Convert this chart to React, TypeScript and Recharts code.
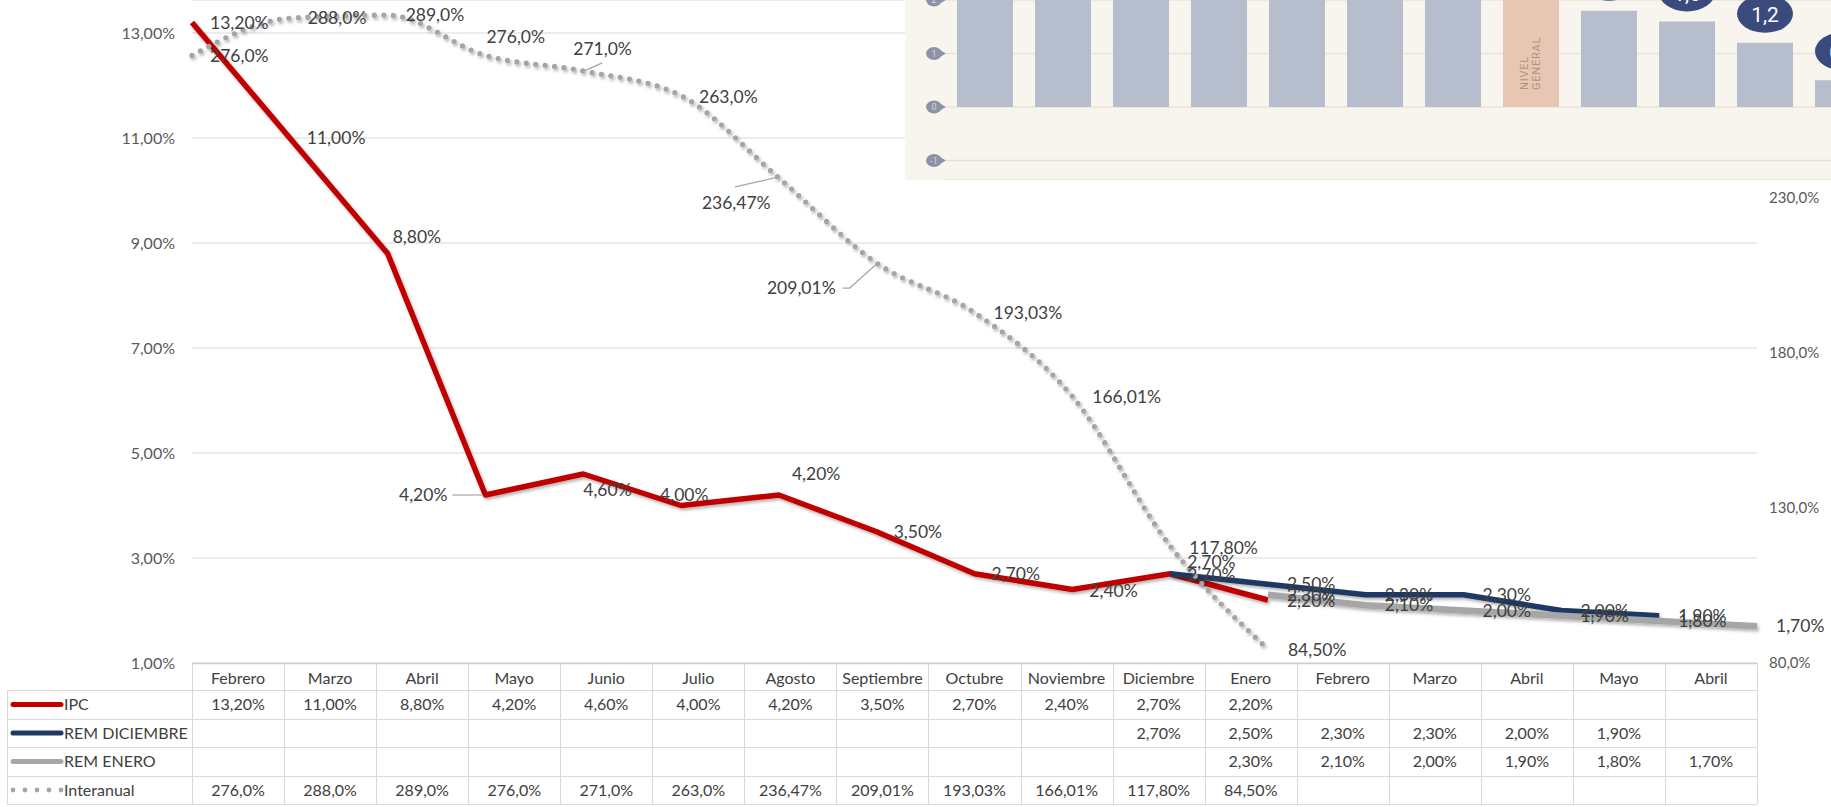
import React from 'react';
import {
  ComposedChart,
  Line,
  XAxis,
  YAxis,
  CartesianGrid,
  LabelList,
  BarChart,
  Bar,
  Cell,
} from 'recharts';

// ---------------- DATA ----------------
const categories = [
  'Febrero', 'Marzo', 'Abril', 'Mayo', 'Junio', 'Julio', 'Agosto', 'Septiembre',
  'Octubre', 'Noviembre', 'Diciembre', 'Enero', 'Febrero', 'Marzo', 'Abril', 'Mayo', 'Abril',
];
const ipc = [13.2, 11.0, 8.8, 4.2, 4.6, 4.0, 4.2, 3.5, 2.7, 2.4, 2.7, 2.2, null, null, null, null, null];
const remDiciembre = [null, null, null, null, null, null, null, null, null, null, 2.7, 2.5, 2.3, 2.3, 2.0, 1.9, null];
const remEnero = [null, null, null, null, null, null, null, null, null, null, null, 2.3, 2.1, 2.0, 1.9, 1.8, 1.7];
const interanual = [276, 288, 289, 276, 271, 263, 236.47, 209.01, 193.03, 166.01, 117.8, 84.5, null, null, null, null, null];
const leftTicks = [1, 3, 5, 7, 9, 11, 13];
const rightTicks = [80, 130, 180, 230, 280];

const seriesNames = ['IPC', 'REM DICIEMBRE', 'REM ENERO', 'Interanual'];

// inset (pasted picture of a bar chart)
const insetValues = [2.6, 2.5, 2.5, 2.4, 2.3, 2.3, 2.2, 2.1, 1.8, 1.6, 1.2, 0.5];
const insetTicks = [-1, 0, 1, 2];
const insetHighlightIndex = 7;
const insetHighlightText = ['NIVEL', 'GENERAL'];

// ---------------- STYLE ----------------
const FONT = 'Lato, "Open Sans", sans-serif';
const TEXT = '#404040';
const RED = '#c00000';
const NAVY = '#1f3864';
const GRAY = '#a6a6a6';
const DOT = '#a5a5a5';

const W = 1831;
const PLOT_LEFT = 192;
const PLOT_RIGHT = 1757;
const PLOT_BOTTOM = 663;
const COL_W = (PLOT_RIGHT - PLOT_LEFT) / categories.length;

type LabelPos = { dx: number; dy: number; anchor?: 'start' | 'end' | 'middle'; leader?: number[][] };

const ipcLayout: LabelPos[] = [
  { dx: 18, dy: 0 }, { dx: 17, dy: 0 }, { dx: 5, dy: -17 },
  { dx: -38, dy: 0, anchor: 'end', leader: [[-33, 0], [-3, 0]] },
  { dx: 0, dy: 16 }, { dx: -21, dy: -11 }, { dx: 13, dy: -21 }, { dx: 17, dy: 0 },
  { dx: 17, dy: 0 }, { dx: 17, dy: 1 }, { dx: 17, dy: 1 }, { dx: 19, dy: 1 },
];
const remDicLayout: LabelPos[] = [];
remDicLayout[10] = { dx: 17, dy: -12 };
const remEneLayout: LabelPos[] = [];
const interLayout: LabelPos[] = [
  { dx: 18, dy: 0 }, { dx: 18, dy: 0 }, { dx: 18, dy: 0 }, { dx: 1, dy: -19 },
  { dx: -10, dy: -22, leader: [[1, 0], [19, -8]] },
  { dx: 18, dy: 1 },
  { dx: -77, dy: 25, leader: [[-44, 9], [0, -1]] },
  { dx: -41, dy: 25, anchor: 'end', leader: [[-34, 25], [-27, 25], [1, 0]] },
  { dx: 19, dy: 0 }, { dx: 20, dy: 1 }, { dx: 19, dy: 2 }, { dx: 20, dy: 1 },
];

const fmtPct2 = (v: number) => v.toFixed(2).replace('.', ',') + '%';
const fmtInter = (v: number) => (Number.isInteger(v) ? v.toFixed(1) : v.toFixed(2)).replace('.', ',') + '%';
const fmtRight = (v: number) => v.toFixed(1).replace('.', ',') + '%';

const chartData = categories.map((c, i) => ({
  key: i,
  name: c,
  ipc: ipc[i],
  remDic: remDiciembre[i],
  remEne: remEnero[i],
  inter: interanual[i],
}));

const insetData = insetValues.map((v, i) => ({ k: i, v }));

function makeLabel(layout: LabelPos[], fmt: (v: number) => string) {
  return (props: any) => {
    const { x, y, value } = props;
    if (value == null || x == null || y == null) return null;
    let index = props.index;
    if (index == null) index = Math.round((x - PLOT_LEFT - COL_W / 2) / COL_W);
    const l = layout[index] || { dx: 19, dy: 0 };
    return (
      <g>
        {l.leader && (
          <polyline
            points={l.leader.map(([a, b]) => `${x + a},${y + b}`).join(' ')}
            fill="none"
            stroke="#a6a6a6"
            strokeWidth={1.2}
          />
        )}
        <text
          x={x + l.dx}
          y={y + l.dy}
          dy="0.35em"
          textAnchor={l.anchor || 'start'}
          fontSize={17.5}
          fill={TEXT}
          fontFamily={FONT}
        >
          {fmt(Number(value))}
        </text>
      </g>
    );
  };
}

const InsetTick = (props: any) => {
  const { y, payload } = props;
  return (
    <g>
      <polygon points={`34,${y - 4} 41,${y} 34,${y + 4}`} fill="#8e92a8" />
      <ellipse cx={29} cy={y} rx={8} ry={6.5} fill="#8e92a8" />
      <text x={29} y={y} dy="0.35em" textAnchor="middle" fontSize={9} fill="#d4d6e0" fontFamily="Roboto">
        {payload.value}
      </text>
    </g>
  );
};

const insetLabel = (props: any) => {
  const { x, y, width, value, index } = props;
  if (value == null) return null;
  const cx = x + width / 2;
  if (index === insetHighlightIndex) {
    return (
      <g fill="#b8917a" fontSize={11} fontFamily="Roboto" letterSpacing={0.8}>
        <text transform={`translate(${cx - 3},90) rotate(-90)`}>{insetHighlightText[0]}</text>
        <text transform={`translate(${cx + 9},90) rotate(-90)`}>{insetHighlightText[1]}</text>
      </g>
    );
  }
  const cy = y - 29;
  return (
    <g>
      <ellipse cx={cx} cy={cy} rx={28} ry={19} fill="#3b4a7c" />
      <text x={cx} y={cy + 1} dy="0.35em" textAnchor="middle" fontSize={21} fill="#ffffff" fontFamily="Roboto">
        {Number(value).toFixed(1).replace('.', ',')}
      </text>
    </g>
  );
};

// ---------------- TABLE ----------------
const ROW_Y = [663, 690, 719, 747, 776, 804];
const TABLE_LEFT = 7;

function LegendSample({ i, cy }: { i: number; cy: number }) {
  if (i === 3) {
    return (
      <g>
        {[13, 25, 37, 49, 61].map((cx) => (
          <circle key={cx} cx={cx} cy={cy} r={2.4} fill={DOT} />
        ))}
      </g>
    );
  }
  const color = i === 0 ? RED : i === 1 ? NAVY : GRAY;
  return <line x1={13} x2={61} y1={cy} y2={cy} stroke={color} strokeWidth={5} strokeLinecap="round" />;
}

function DataTable() {
  const rows = [
    ipc.map((v) => (v == null ? '' : fmtPct2(v))),
    remDiciembre.map((v) => (v == null ? '' : fmtPct2(v))),
    remEnero.map((v) => (v == null ? '' : fmtPct2(v))),
    interanual.map((v) => (v == null ? '' : fmtInter(v))),
  ];
  const lineColor = '#d9d9d9';
  const lines: any[] = [];
  lines.push(<line key="ht" x1={PLOT_LEFT} x2={PLOT_RIGHT} y1={ROW_Y[0] + 0.5} y2={ROW_Y[0] + 0.5} stroke="#cfcfcf" strokeWidth={1.5} />);
  for (let r = 1; r < ROW_Y.length; r++) {
    lines.push(
      <line key={'h' + r} x1={TABLE_LEFT} x2={PLOT_RIGHT} y1={ROW_Y[r] + 0.5} y2={ROW_Y[r] + 0.5} stroke={lineColor} strokeWidth={1} />
    );
  }
  lines.push(<line key="vl" x1={TABLE_LEFT + 0.5} x2={TABLE_LEFT + 0.5} y1={ROW_Y[1]} y2={ROW_Y[5]} stroke={lineColor} />);
  for (let c = 0; c <= categories.length; c++) {
    const x = Math.round(PLOT_LEFT + c * COL_W) + 0.5;
    lines.push(<line key={'v' + c} x1={x} x2={x} y1={ROW_Y[0]} y2={ROW_Y[5]} stroke={lineColor} />);
  }
  return (
    <svg width={W} height={807} style={{ position: 'absolute', left: 0, top: 0 }}>
      {lines}
      {categories.map((c, i) => (
        <text key={'c' + i} x={PLOT_LEFT + (i + 0.5) * COL_W} y={(ROW_Y[0] + ROW_Y[1]) / 2 + 2} dy="0.35em"
          textAnchor="middle" fontSize={16} fill={TEXT} fontFamily={FONT}>
          {c}
        </text>
      ))}
      {rows.map((row, r) => {
        const cy = (ROW_Y[r + 1] + ROW_Y[r + 2]) / 2;
        return (
          <g key={'r' + r}>
            <LegendSample i={r} cy={cy} />
            <text x={64} y={cy} dy="0.35em" fontSize={16} fill={TEXT} fontFamily={FONT}>
              {seriesNames[r]}
            </text>
            {row.map((t, i) => (
              <text key={i} x={PLOT_LEFT + (i + 0.5) * COL_W} y={cy} dy="0.35em" textAnchor="middle"
                fontSize={16} fill={TEXT} fontFamily={FONT}>
                {t}
              </text>
            ))}
          </g>
        );
      })}
    </svg>
  );
}

// ---------------- APP ----------------
export default function App() {
  const leftMax = 1 + PLOT_BOTTOM / 52.5;
  const rightMax = 80 + PLOT_BOTTOM / 3.1;
  return (
    <div style={{ position: 'absolute', left: 0, top: 0, width: W, height: 807, overflow: 'hidden', background: '#fff', fontFamily: FONT }}>
      <svg width={0} height={0} style={{ position: 'absolute' }}>
        <defs>
          <filter id="lineShadow" filterUnits="userSpaceOnUse" x={0} y={0} width={W} height={807}>
            <feDropShadow dx={1.5} dy={2.2} stdDeviation={1.6} floodColor="#000" floodOpacity={0.3} />
          </filter>
        </defs>
      </svg>
      <div style={{ position: 'absolute', left: 0, top: 0 }}>
        <ComposedChart width={W} height={PLOT_BOTTOM + 17} data={chartData} margin={{ top: 0, right: 0, bottom: 17, left: 0 }}>
          <CartesianGrid yAxisId="left" vertical={false} stroke="#d9d9d9" />
          <XAxis dataKey="key" hide />
          <YAxis
            yAxisId="left"
            width={PLOT_LEFT}
            domain={[1, leftMax]}
            ticks={leftTicks}
            allowDataOverflow
            axisLine={false}
            tickLine={false}
            tickSize={0}
            tickMargin={17}
            tickFormatter={fmtPct2}
            tick={{ fill: '#595959', fontSize: 16, fontFamily: FONT }}
            interval={0}
          />
          <YAxis
            yAxisId="right"
            orientation="right"
            width={W - PLOT_RIGHT}
            domain={[80, rightMax]}
            ticks={rightTicks}
            allowDataOverflow
            axisLine={false}
            tickLine={false}
            tickSize={0}
            tickMargin={12}
            tickFormatter={fmtRight}
            tick={{ fill: '#595959', fontSize: 15, fontFamily: FONT }}
            interval={0}
          />
          <Line yAxisId="left" dataKey="ipc" type="linear" stroke={RED} strokeWidth={5.5} dot={false}
            isAnimationActive={false} filter="url(#lineShadow)" strokeLinejoin="round">
            <LabelList dataKey="ipc" content={makeLabel(ipcLayout, fmtPct2)} />
          </Line>
          <Line yAxisId="left" dataKey="remDic" type="linear" stroke={NAVY} strokeWidth={5.5} dot={false}
            isAnimationActive={false} filter="url(#lineShadow)" strokeLinejoin="round">
            <LabelList dataKey="remDic" content={makeLabel(remDicLayout, fmtPct2)} />
          </Line>
          <Line yAxisId="left" dataKey="remEne" type="linear" stroke={GRAY} strokeWidth={6.5} dot={false}
            isAnimationActive={false} filter="url(#lineShadow)" strokeLinejoin="round">
            <LabelList dataKey="remEne" content={makeLabel(remEneLayout, fmtPct2)} />
          </Line>
          <Line yAxisId="right" dataKey="inter" type="monotone" stroke={DOT} strokeWidth={5.2}
            strokeDasharray="0 9.5" strokeLinecap="round" dot={false} isAnimationActive={false}
            filter="url(#lineShadow)">
            <LabelList dataKey="inter" content={makeLabel(interLayout, fmtInter)} />
          </Line>
        </ComposedChart>
      </div>
      <DataTable />
      <div style={{ position: 'absolute', left: 905, top: 0, width: W - 905, height: 180, overflow: 'hidden', background: '#f8f5ef' }}>
        <BarChart width={977} height={180} data={insetData} margin={{ top: 0, right: 0, bottom: 0, left: 0 }}>
          <CartesianGrid vertical={false} stroke="#e8e3d9" strokeWidth={1.5} />
          <XAxis dataKey="k" hide />
          <YAxis width={41} domain={[-1.364, 2]} ticks={insetTicks} allowDataOverflow axisLine={false}
            tickLine={false} tick={<InsetTick />} interval={0} />
          <Bar dataKey="v" barSize={56} isAnimationActive={false}>
            {insetData.map((d, i) => (
              <Cell key={i} fill={i === insetHighlightIndex ? '#e7c7b4' : '#b6bdcc'} />
            ))}
            <LabelList dataKey="v" content={insetLabel} />
          </Bar>
        </BarChart>
      </div>
    </div>
  );
}
